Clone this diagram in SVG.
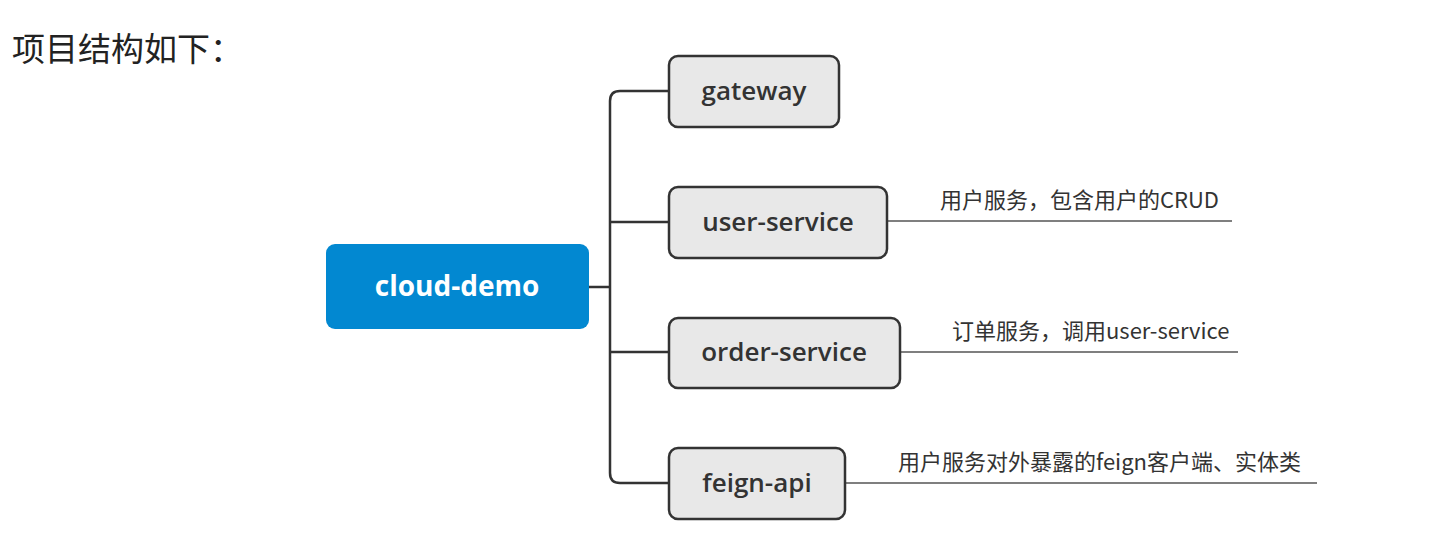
<svg xmlns="http://www.w3.org/2000/svg" width="1434" height="560" viewBox="0 0 1434 560">
<style>
.title{font-family:"Noto Sans CJK SC","Noto Sans",sans-serif;font-size:33px;fill:#222}
.node rect{fill:#e8e8e8;stroke:#333;stroke-width:2.5}
.node text{font-family:"Open Sans","Noto Sans",sans-serif;font-size:26px;fill:#333;text-anchor:middle;font-weight:600}
.root rect{fill:#0288d1}
.root text{font-family:"Open Sans","Noto Sans",sans-serif;font-size:28px;font-weight:bold;fill:#fff;text-anchor:middle}
.conn{fill:none;stroke:#333;stroke-width:2.5}
.note{fill:none;stroke:#555;stroke-width:1.5}
.notetext{font-family:"Noto Sans CJK SC","Noto Sans",sans-serif;font-size:22px;fill:#333}
</style>
<rect width="1434" height="560" fill="#fff"/>
<text class="title" x="12" y="61">项目结构如下：</text>
<g id="connectors">
<path class="conn" d="M589 287 H610"/>
<path class="conn" d="M669 91 H620 Q610 91 610 101 V473 Q610 483 620 483 H669"/>
<path class="conn" d="M610 222 H669"/>
<path class="conn" d="M610 352 H669"/>
<path class="note" d="M887 221 H1232"/>
<path class="note" d="M900 352 H1238"/>
<path class="note" d="M845 483 H1317"/>
</g>
<g id="cloud-demo" class="root">
<rect x="326" y="244" width="263" height="85" rx="9"/>
<text x="457" y="296">cloud-demo</text>
</g>
<g id="gateway" class="node">
<rect x="669" y="56" width="170" height="71" rx="9"/>
<text x="754" y="100">gateway</text>
</g>
<g id="user-service" class="node">
<rect x="669" y="187" width="218" height="71" rx="9"/>
<text x="778" y="231">user-service</text>
</g>
<g id="order-service" class="node">
<rect x="669" y="318" width="231" height="70" rx="9"/>
<text x="784" y="361">order-service</text>
</g>
<g id="feign-api" class="node">
<rect x="669" y="448" width="176" height="71" rx="9"/>
<text x="757" y="492">feign-api</text>
</g>
<g id="notes">
<text class="notetext" x="940" y="208">用户服务，包含用户的CRUD</text>
<text class="notetext" x="952" y="339">订单服务，调用user-service</text>
<text class="notetext" x="898" y="470">用户服务对外暴露的feign客户端、实体类</text>
</g>
</svg>
